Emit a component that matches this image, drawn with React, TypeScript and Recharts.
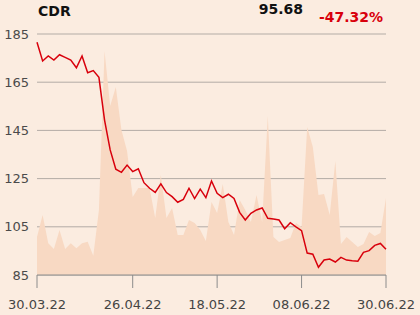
import * as React from "react";
import { ComposedChart, Area, Line, XAxis, YAxis, CartesianGrid } from "recharts";

const dates = [
  "30.03.22", "31.03.22", "01.04.22", "04.04.22", "05.04.22", "06.04.22", "07.04.22", "08.04.22",
  "11.04.22", "12.04.22", "13.04.22", "14.04.22", "19.04.22", "20.04.22", "21.04.22", "22.04.22",
  "25.04.22", "26.04.22", "27.04.22", "28.04.22", "29.04.22", "02.05.22", "04.05.22", "05.05.22",
  "06.05.22", "09.05.22", "10.05.22", "11.05.22", "12.05.22", "13.05.22", "16.05.22", "17.05.22",
  "18.05.22", "19.05.22", "20.05.22", "23.05.22", "24.05.22", "25.05.22", "26.05.22", "27.05.22",
  "30.05.22", "31.05.22", "01.06.22", "02.06.22", "03.06.22", "06.06.22", "07.06.22", "08.06.22",
  "09.06.22", "10.06.22", "13.06.22", "14.06.22", "15.06.22", "17.06.22", "20.06.22", "21.06.22",
  "22.06.22", "23.06.22", "24.06.22", "27.06.22", "28.06.22", "29.06.22", "30.06.22",
];

const close = [
  181.6, 173.8, 175.9, 174.2, 176.4, 175.3, 174.2, 171.0, 175.9, 168.9, 169.8, 167.0, 149.3, 136.9,
  128.9, 127.6, 130.6, 127.9, 129.1, 123.3, 121.0, 119.3, 122.8, 119.2, 117.5, 115.2, 116.4, 121.0,
  116.7, 120.6, 117.1, 124.0, 118.9, 117.1, 118.5, 116.8, 111.0, 107.8, 110.6, 112.0, 112.8, 108.5,
  108.2, 107.8, 104.2, 106.7, 105.0, 103.4, 94.1, 93.6, 88.2, 91.2, 91.6, 90.4, 92.3, 91.2, 90.9,
  90.7, 94.4, 95.1, 97.3, 98.1, 95.68,
];

// volume, thousands of shares
const volume = [
  380, 600, 317, 260, 450, 260, 317, 267, 317, 333, 193, 650, 2240, 1690, 1880, 1450, 1240, 780,
  870, 870, 870, 570, 1000, 570, 670, 400, 400, 550, 520, 450, 340, 730, 620, 910, 530, 400, 750,
  650, 530, 800, 530, 1590, 380, 330, 350, 370, 520, 480, 1480, 1280, 800, 810, 600, 1140, 310,
  380, 330, 280, 310, 430, 390, 420, 770,
];

const xTicks = ["30.03.22", "26.04.22", "18.05.22", "08.06.22", "30.06.22"];
const yTicks = [85, 105, 125, 145, 165, 185];

const data = dates.map((d, i) => ({ date: d, close: close[i], volume: volume[i] }));

const font = "'DejaVu Sans', sans-serif";

export default function App() {
  return (
    <div style={{ position: "relative", width: 420, height: 315, background: "#fbece0", fontFamily: font }}>
      <style>{"body{margin:0}"}</style>
      <ComposedChart width={420} height={315} data={data} margin={{ top: 34, right: 34, bottom: 0, left: 0 }}>
        <XAxis
          dataKey="date"
          scale="point"
          ticks={xTicks}
          interval={0}
          tickSize={13}
          tickMargin={12}
          height={40}
          stroke="#8c8c8c"
          tick={{ fill: "#444", fontSize: 13, fontFamily: font }}
        />
        <YAxis
          yAxisId="price"
          domain={[85, 185]}
          ticks={yTicks}
          width={37}
          axisLine={false}
          tickLine={false}
          tick={{ fill: "#4a4a4a", fontSize: 13, fontFamily: font }}
        />
        <YAxis yAxisId="vol" orientation="right" domain={[0, 2410]} hide />
        <Area
          yAxisId="vol"
          dataKey="volume"
          type="linear"
          stroke="none"
          fill="#f8d9c3"
          fillOpacity={1}
          isAnimationActive={false}
        />
        <CartesianGrid yAxisId="price" vertical={false} stroke="#b3aca6" />
        <Line
          yAxisId="price"
          dataKey="close"
          type="linear"
          stroke="#d8000c"
          strokeWidth={1.5}
          dot={false}
          isAnimationActive={false}
        />
      </ComposedChart>
      <svg width={420} height={315} style={{ position: "absolute", left: 0, top: 0, pointerEvents: "none" }}>
        <text x={38} y={16} fontSize={14} fontWeight="bold" fill="#111" fontFamily={font}>CDR</text>
        <text x={303} y={14} fontSize={14} fontWeight="bold" fill="#111" textAnchor="end" fontFamily={font}>95.68</text>
        <text x={383} y={22} fontSize={14} fontWeight="bold" fill="#d8000c" textAnchor="end" fontFamily={font}>-47.32%</text>
      </svg>
    </div>
  );
}
